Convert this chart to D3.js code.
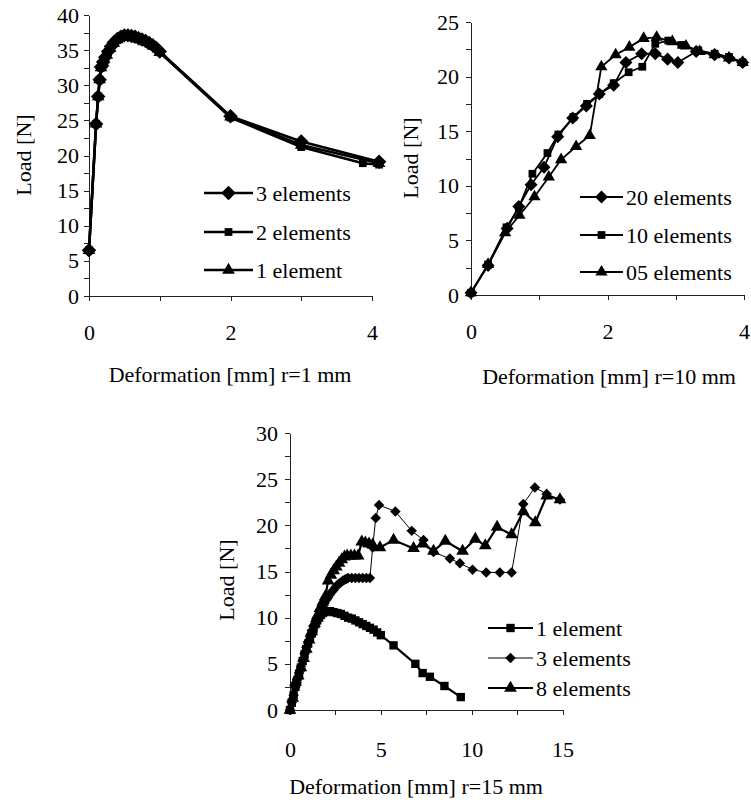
<!DOCTYPE html>
<html>
<head>
<meta charset="utf-8">
<script src="https://cdn.jsdelivr.net/npm/d3@7"></script>
<style>
    body { margin: 0; background: #fff; }
    .axis path, .axis line { stroke: #222; stroke-width: 1; shape-rendering: crispEdges; }
</style>
</head>
<body>
<svg id="chart" width="751" height="800"></svg>
<script>
// ---- r = 1 mm : deformation [mm], load [N]
var r1Three = [[0, 6.5], [0.1, 24.5], [0.13, 28.4], [0.15, 30.8], [0.17, 32.6], [0.2, 33.3], [0.23, 34.0],
    [0.27, 34.8], [0.31, 35.5], [0.35, 36.1], [0.4, 36.6], [0.45, 36.9], [0.5, 37.1], [0.55, 37.1], [0.6, 37.0],
    [0.65, 36.9], [0.7, 36.7], [0.75, 36.5], [0.8, 36.3], [0.85, 36.0], [0.9, 35.7], [0.95, 35.3], [1.0, 34.8],
    [2.0, 25.6], [3.0, 22.0], [4.1, 19.1]];
var r1Two = [[0, 6.5], [0.1, 24.5], [0.13, 28.4], [0.15, 30.8], [0.17, 32.5], [0.2, 33.2], [0.23, 33.9],
    [0.27, 34.7], [0.31, 35.4], [0.35, 36.0], [0.4, 36.5], [0.45, 36.8], [0.5, 37.0], [0.55, 37.0], [0.6, 36.9],
    [0.65, 36.8], [0.7, 36.6], [0.75, 36.4], [0.8, 36.2], [0.85, 35.9], [0.9, 35.6], [0.95, 35.2], [1.0, 34.7],
    [2.0, 25.4], [3.0, 21.2], [3.87, 18.9], [4.1, 18.7]];
var r1One = [[0, 6.5], [0.1, 24.5], [0.13, 28.4], [0.15, 30.8], [0.17, 32.5], [0.2, 33.2], [0.25, 34.3],
    [0.3, 35.3], [0.35, 36.0], [0.4, 36.5], [0.5, 37.0], [0.6, 36.9], [0.7, 36.6], [0.8, 36.2], [0.9, 35.6],
    [1.0, 34.7], [2.0, 25.5], [3.0, 21.5], [4.1, 18.9]];

// ---- r = 10 mm
var r10Twenty = [[0, 0.2], [0.25, 2.7], [0.53, 6.1], [0.7, 8.1], [0.88, 10.1], [1.07, 11.7], [1.27, 14.5],
    [1.49, 16.2], [1.69, 17.3], [1.88, 18.4], [2.09, 19.2], [2.27, 21.3], [2.5, 22.1], [2.7, 22.1], [2.88, 21.6],
    [3.03, 21.3], [3.3, 22.3], [3.57, 22.0], [3.78, 21.7], [3.98, 21.3]];
var r10Ten = [[0, 0.2], [0.25, 2.8], [0.52, 6.2], [0.7, 8.0], [0.9, 11.1], [1.12, 13.0], [1.28, 14.7],
    [1.5, 16.3], [1.7, 17.5], [1.88, 18.4], [2.09, 19.4], [2.31, 20.4], [2.51, 20.9], [2.7, 23.0], [2.89, 23.3],
    [3.08, 22.9], [3.33, 22.4], [3.57, 22.1], [3.78, 21.8], [3.98, 21.3]];
var r10Five = [[0, 0.2], [0.25, 2.8], [0.5, 5.7], [0.71, 7.3], [0.93, 9.0], [1.14, 10.8], [1.32, 12.4],
    [1.54, 13.6], [1.74, 14.6], [1.91, 20.9], [2.12, 22.0], [2.32, 22.7], [2.53, 23.5], [2.72, 23.6],
    [2.95, 23.2], [3.15, 22.8], [3.35, 22.3], [3.57, 22.0], [3.78, 21.7], [3.98, 21.3]];

// ---- r = 15 mm
var r15One = [[0, 0], [0.1, 0.8], [0.2, 1.6], [0.3, 2.5], [0.4, 3.2], [0.5, 3.9], [0.6, 4.6], [0.7, 5.3],
    [0.8, 6.0], [0.9, 6.6], [1.0, 7.2], [1.1, 7.8], [1.2, 8.3], [1.3, 8.8], [1.4, 9.3], [1.5, 9.7], [1.6, 10.0],
    [1.7, 10.3], [1.8, 10.5], [1.9, 10.6], [2.0, 10.7], [2.2, 10.7], [2.4, 10.6], [2.6, 10.5], [2.8, 10.4],
    [3.0, 10.2], [3.2, 10.0], [3.4, 9.9], [3.6, 9.7], [3.8, 9.5], [4.0, 9.3], [4.2, 9.1], [4.4, 8.9],
    [4.6, 8.7], [4.8, 8.4], [5.0, 8.1], [5.7, 7.0], [6.9, 5.0], [7.3, 4.0], [7.7, 3.6], [8.5, 2.6], [9.4, 1.4]];
var r15Three = [[0, 0], [0.1, 0.8], [0.2, 1.6], [0.3, 2.5], [0.4, 3.3], [0.5, 4.0], [0.6, 4.7], [0.7, 5.4],
    [0.8, 6.1], [0.9, 6.8], [1.0, 7.4], [1.1, 8.0], [1.2, 8.6], [1.3, 9.1], [1.4, 9.6], [1.5, 10.0], [1.6, 10.4],
    [1.7, 10.8], [1.8, 11.2], [1.9, 11.6], [2.0, 11.9], [2.1, 12.2], [2.2, 12.5], [2.3, 12.8], [2.4, 13.0],
    [2.5, 13.3], [2.6, 13.5], [2.7, 13.7], [2.8, 13.8], [2.9, 14.0], [3.0, 14.1], [3.1, 14.2], [3.2, 14.3],
    [3.4, 14.3], [3.6, 14.3], [3.8, 14.3], [4.0, 14.3], [4.2, 14.3], [4.4, 14.3], [4.55, 17.6], [4.72, 20.8],
    [4.9, 22.2], [5.8, 21.5], [6.7, 19.4], [7.35, 18.4], [7.9, 17.1], [8.8, 16.4], [9.35, 15.9], [10.05, 15.2],
    [10.8, 14.9], [11.55, 14.9], [12.2, 14.9], [12.84, 22.3], [13.48, 24.1], [14.13, 23.4], [14.86, 22.8]];
var r15Eight = [[0, 0], [0.15, 1.3], [0.3, 3.0], [0.45, 3.7], [0.6, 4.6], [0.75, 5.6], [0.9, 6.6], [1.05, 7.6],
    [1.2, 8.5], [1.35, 9.4], [1.5, 10.2], [1.65, 11.0], [1.8, 11.7], [1.95, 12.3], [2.1, 14.0], [2.25, 14.6],
    [2.4, 15.1], [2.55, 15.5], [2.7, 15.9], [2.85, 16.3], [3.0, 16.6], [3.15, 16.7], [3.35, 16.7], [3.55, 16.7],
    [3.75, 16.7], [3.95, 18.2], [4.15, 18.1], [4.35, 18.0], [4.55, 17.9], [4.95, 17.6], [5.7, 18.4], [6.8, 17.5],
    [7.3, 18.0], [7.9, 17.2], [8.55, 18.3], [9.5, 17.2], [10.2, 18.5], [10.75, 17.8], [11.4, 19.8], [12.2, 19.0],
    [12.84, 21.5], [13.5, 20.3], [14.13, 23.2], [14.86, 22.8]];

// tick values
var r1XTicks = [0, 1, 2, 3, 4], r1XLabels = [0, 2, 4];
var r1YTicks = d3.range(0, 40.1, 2.5), r1YLabels = [0, 5, 10, 15, 20, 25, 30, 35, 40];
var r10XTicks = [0, 1, 2, 3, 4], r10XLabels = [0, 2, 4];
var r10YTicks = d3.range(0, 25.1, 2.5), r10YLabels = [0, 5, 10, 15, 20, 25];
var r15XTicks = d3.range(0, 15.1, 2.5), r15XLabels = [0, 5, 10, 15];
var r15YTicks = d3.range(0, 30.1, 2.5), r15YLabels = [0, 5, 10, 15, 20, 25, 30];

var r1Names = ['3 elements', '2 elements', '1 element'];
var r10Names = ['20 elements', '10 elements', '05 elements'];
var r15Names = ['1 element', '3 elements', '8 elements'];

var FONT = '"Liberation Serif", Tinos, "Times New Roman", "DejaVu Serif", serif';

var svg = d3.select('#chart');

function marker(kind, size) {
    if (kind === 'triangle') return d3.symbol().type(d3.symbolTriangle).size(size)();
    return d3.symbol().type(d3.symbolSquare).size(size)();
}

function serif(sel) {
    sel.attr('font-family', FONT).style('font-family', FONT).style('font-size', '22px').attr('fill', '#000');
}

function drawPanel(p) {
    var x = d3.scaleLinear().domain(p.xDomain).range(p.xRange);
    var y = d3.scaleLinear().domain(p.yDomain).range(p.yRange);
    var g = svg.append('g');

    g.append('g')
        .attr('class', 'axis')
        .attr('transform', 'translate(' + p.xRange[0] + ',0)')
        .call(d3.axisLeft(y).tickValues(p.yTicks).tickSize(5).tickSizeOuter(0).tickPadding(p.yPad)
            .tickFormat(function(d) { return p.yLabels.indexOf(d) >= 0 ? d : ''; }))
        .selectAll('text').call(serif);

    g.append('g')
        .attr('class', 'axis')
        .attr('transform', 'translate(0,' + p.yRange[0] + ')')
        .call(d3.axisBottom(x).tickValues(p.xTicks).tickSize(5).tickSizeOuter(0).tickPadding(p.xPad)
            .tickFormat(function(d) { return p.xLabels.indexOf(d) >= 0 ? d : ''; }))
        .selectAll('text').call(serif);

    g.selectAll('.domain').attr('fill', 'none');

    // axis titles
    g.append('text')
        .attr('x', p.xTitle[0]).attr('y', p.xTitle[1])
        .attr('text-anchor', 'middle')
        .call(serif)
        .text(p.xLabel);
    g.append('text')
        .attr('transform', 'translate(' + p.yTitle[0] + ',' + p.yTitle[1] + ') rotate(-90)')
        .attr('text-anchor', 'middle')
        .attr('dy', '0.35em')
        .call(serif)
        .text('Load [N]');

    var line = d3.line()
        .x(function(d) { return x(d[0]); })
        .y(function(d) { return y(d[1]); });

    p.series.forEach(function(s, i) {
        g.append('path')
            .datum(s.data)
            .attr('d', line)
            .attr('fill', 'none')
            .attr('stroke', '#000')
            .attr('stroke-width', s.width)
            .attr('stroke-linejoin', 'round');

        g.selectAll('.m' + i)
            .data(s.data)
            .enter()
            .append('path')
            .attr('class', 'm' + i)
            .attr('d', marker(s.kind, s.size))
            .attr('transform', function(d) {
                return 'translate(' + x(d[0]) + ',' + y(d[1]) + ')' + (s.kind === 'diamond' ? ' rotate(45)' : '');
            })
            .attr('fill', '#000');

        // legend
        var ly = p.legend.rows[i];
        var lg = g.append('g').attr('transform', 'translate(0,' + ly + ')');
        lg.append('line')
            .attr('x1', p.legend.x0).attr('x2', p.legend.x1)
            .attr('stroke', '#000').attr('stroke-width', s.width);
        lg.append('path')
            .attr('d', marker(s.kind, s.size))
            .attr('transform', 'translate(' + (p.legend.x0 + p.legend.x1) / 2 + ',0)' + (s.kind === 'diamond' ? ' rotate(45)' : ''))
            .attr('fill', '#000');
        lg.append('text')
            .attr('x', p.legend.x1 + 3)
            .attr('dy', '0.35em')
            .call(serif)
            .text(s.name);
    });
}

drawPanel({
    xDomain: [0, 4], xRange: [89, 372], yDomain: [0, 40], yRange: [296, 15],
    xTicks: r1XTicks, xLabels: r1XLabels, yTicks: r1YTicks, yLabels: r1YLabels,
    xPad: 23, yPad: 5,
    xLabel: 'Deformation [mm] r=1 mm', xTitle: [230, 382], yTitle: [23, 155],
    legend: { x0: 204, x1: 253, rows: [193, 232, 270] },
    series: [
        { name: r1Names[0], data: r1Three, kind: 'diamond', size: 105, width: 2.5 },
        { name: r1Names[1], data: r1Two, kind: 'square', size: 60, width: 2.5 },
        { name: r1Names[2], data: r1One, kind: 'triangle', size: 70, width: 2.5 }
    ]
});

drawPanel({
    xDomain: [0, 4], xRange: [471, 744], yDomain: [0, 25], yRange: [295, 22],
    xTicks: r10XTicks, xLabels: r10XLabels, yTicks: r10YTicks, yLabels: r10YLabels,
    xPad: 23, yPad: 7,
    xLabel: 'Deformation [mm] r=10 mm', xTitle: [609, 384], yTitle: [410, 158],
    legend: { x0: 580, x1: 623, rows: [197, 235, 272] },
    series: [
        { name: r10Names[0], data: r10Twenty, kind: 'diamond', size: 85, width: 1.8 },
        { name: r10Names[1], data: r10Ten, kind: 'square', size: 60, width: 1.8 },
        { name: r10Names[2], data: r10Five, kind: 'triangle', size: 65, width: 1.8 }
    ]
});

drawPanel({
    xDomain: [0, 15], xRange: [290, 562.5], yDomain: [0, 30], yRange: [710, 433],
    xTicks: r15XTicks, xLabels: r15XLabels, yTicks: r15YTicks, yLabels: r15YLabels,
    xPad: 26, yPad: 7,
    xLabel: 'Deformation [mm] r=15 mm', xTitle: [416, 794], yTitle: [226, 580],
    legend: { x0: 488, x1: 533, rows: [628, 658, 688] },
    series: [
        { name: r15Names[0], data: r15One, kind: 'square', size: 70, width: 2.2 },
        { name: r15Names[1], data: r15Three, kind: 'diamond', size: 55, width: 1 },
        { name: r15Names[2], data: r15Eight, kind: 'triangle', size: 70, width: 2.2 }
    ]
});
</script>
</body>
</html>
